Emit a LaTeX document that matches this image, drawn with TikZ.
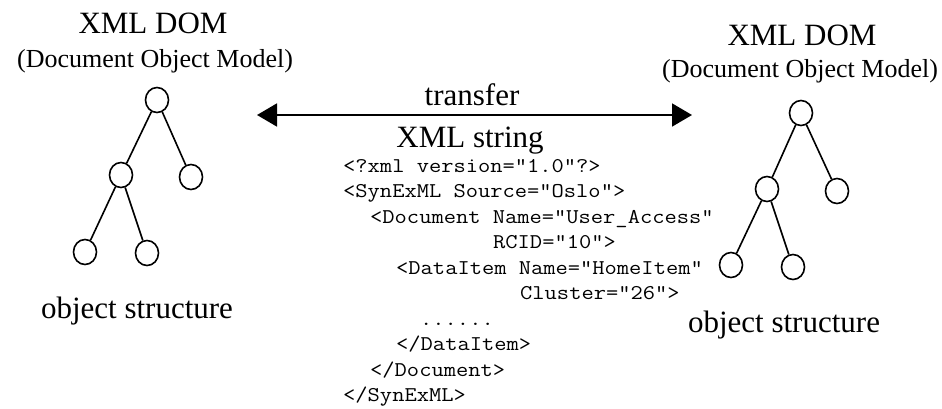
\documentclass[tikz,border=0pt]{standalone}
\usepackage{fontspec}
\setmainfont{Liberation Serif}
\usetikzlibrary{arrows.meta,shapes.geometric}
\newcommand{\codeline}[1]{\scalebox{1.134}[1]{#1}}
\tikzset{
  tnode/.style={draw,line width=1.6pt,ellipse,inner sep=0pt,minimum width=23pt,minimum height=25pt},
  tedge/.style={line width=1.6pt},
  big/.style={font=\fontsize{31}{34}\selectfont,inner sep=0pt,anchor=base},
  mid/.style={font=\fontsize{26}{30}\selectfont,inner sep=0pt,anchor=base},
  code/.style={font=\ttfamily\fontsize{21}{25}\selectfont,inner sep=0pt,anchor=base west},
  xarrow/.style={line width=1.8pt,{Triangle[length=20pt,width=23pt]}-{Triangle[length=20pt,width=23pt]}}
}
\begin{document}
\begin{tikzpicture}[x=1pt,y=-1pt]
\useasboundingbox (0,0) rectangle (942,408);
% left side
\node[big] (lt) at (153,33) {XML DOM};
\node[mid] (ls) at (155,67) {(Document Object Model)};
\node[tnode] (l1) at (157,100) {};
\node[tnode] (l2) at (121,175) {};
\node[tnode] (l3) at (191,177) {};
\node[tnode] (l4) at (85,252) {};
\node[tnode] (l5) at (147,253) {};
\draw[tedge] (l1) -- (l2);
\draw[tedge] (l1) -- (l3);
\draw[tedge] (l2) -- (l4);
\draw[tedge] (l2) -- (l5);
\node[big] (lo) at (137,318) {object structure};
% right side
\node[big] (rt) at (802,45) {XML DOM};
\node[mid] (rs) at (800,77) {(Document Object Model)};
\node[tnode] (r1) at (801,113) {};
\node[tnode] (r2) at (767,189) {};
\node[tnode] (r3) at (837,191) {};
\node[tnode] (r4) at (731,265) {};
\node[tnode] (r5) at (793,267) {};
\draw[tedge] (r1) -- (r2);
\draw[tedge] (r1) -- (r3);
\draw[tedge] (r2) -- (r4);
\draw[tedge] (r2) -- (r5);
\node[big] (ro) at (784,332) {object structure};
% transfer arrow
\coordinate (aL) at (257,115);
\coordinate (aR) at (692,115);
\draw[xarrow] (aL) -- (aR);
\node[big] (tr) at (472,105) {transfer};
\node[big] (xs) at (470,147) {XML string};
% code
\node[code] (c1) at (343,172) {\codeline{<?xml version="1.0"?>}};
\node[code] (c2) at (343,197.5) {\codeline{<SynExML Source="Oslo">}};
\node[code] (c3) at (370,223) {\codeline{<Document Name="User\_Access"}};
\node[code] (c4) at (493,248.5) {\codeline{RCID="10">}};
\node[code] (c5) at (396,274) {\codeline{<DataItem Name="HomeItem"}};
\node[code] (c6) at (520,299.5) {\codeline{Cluster="26">}};
\node[code] (c7) at (420,325) {\codeline{......}};
\node[code] (c8) at (396,350.5) {\codeline{</DataItem>}};
\node[code] (c9) at (370,376) {\codeline{</Document>}};
\node[code] (c10) at (343,401.5) {\codeline{</SynExML>}};
\end{tikzpicture}
\end{document}
